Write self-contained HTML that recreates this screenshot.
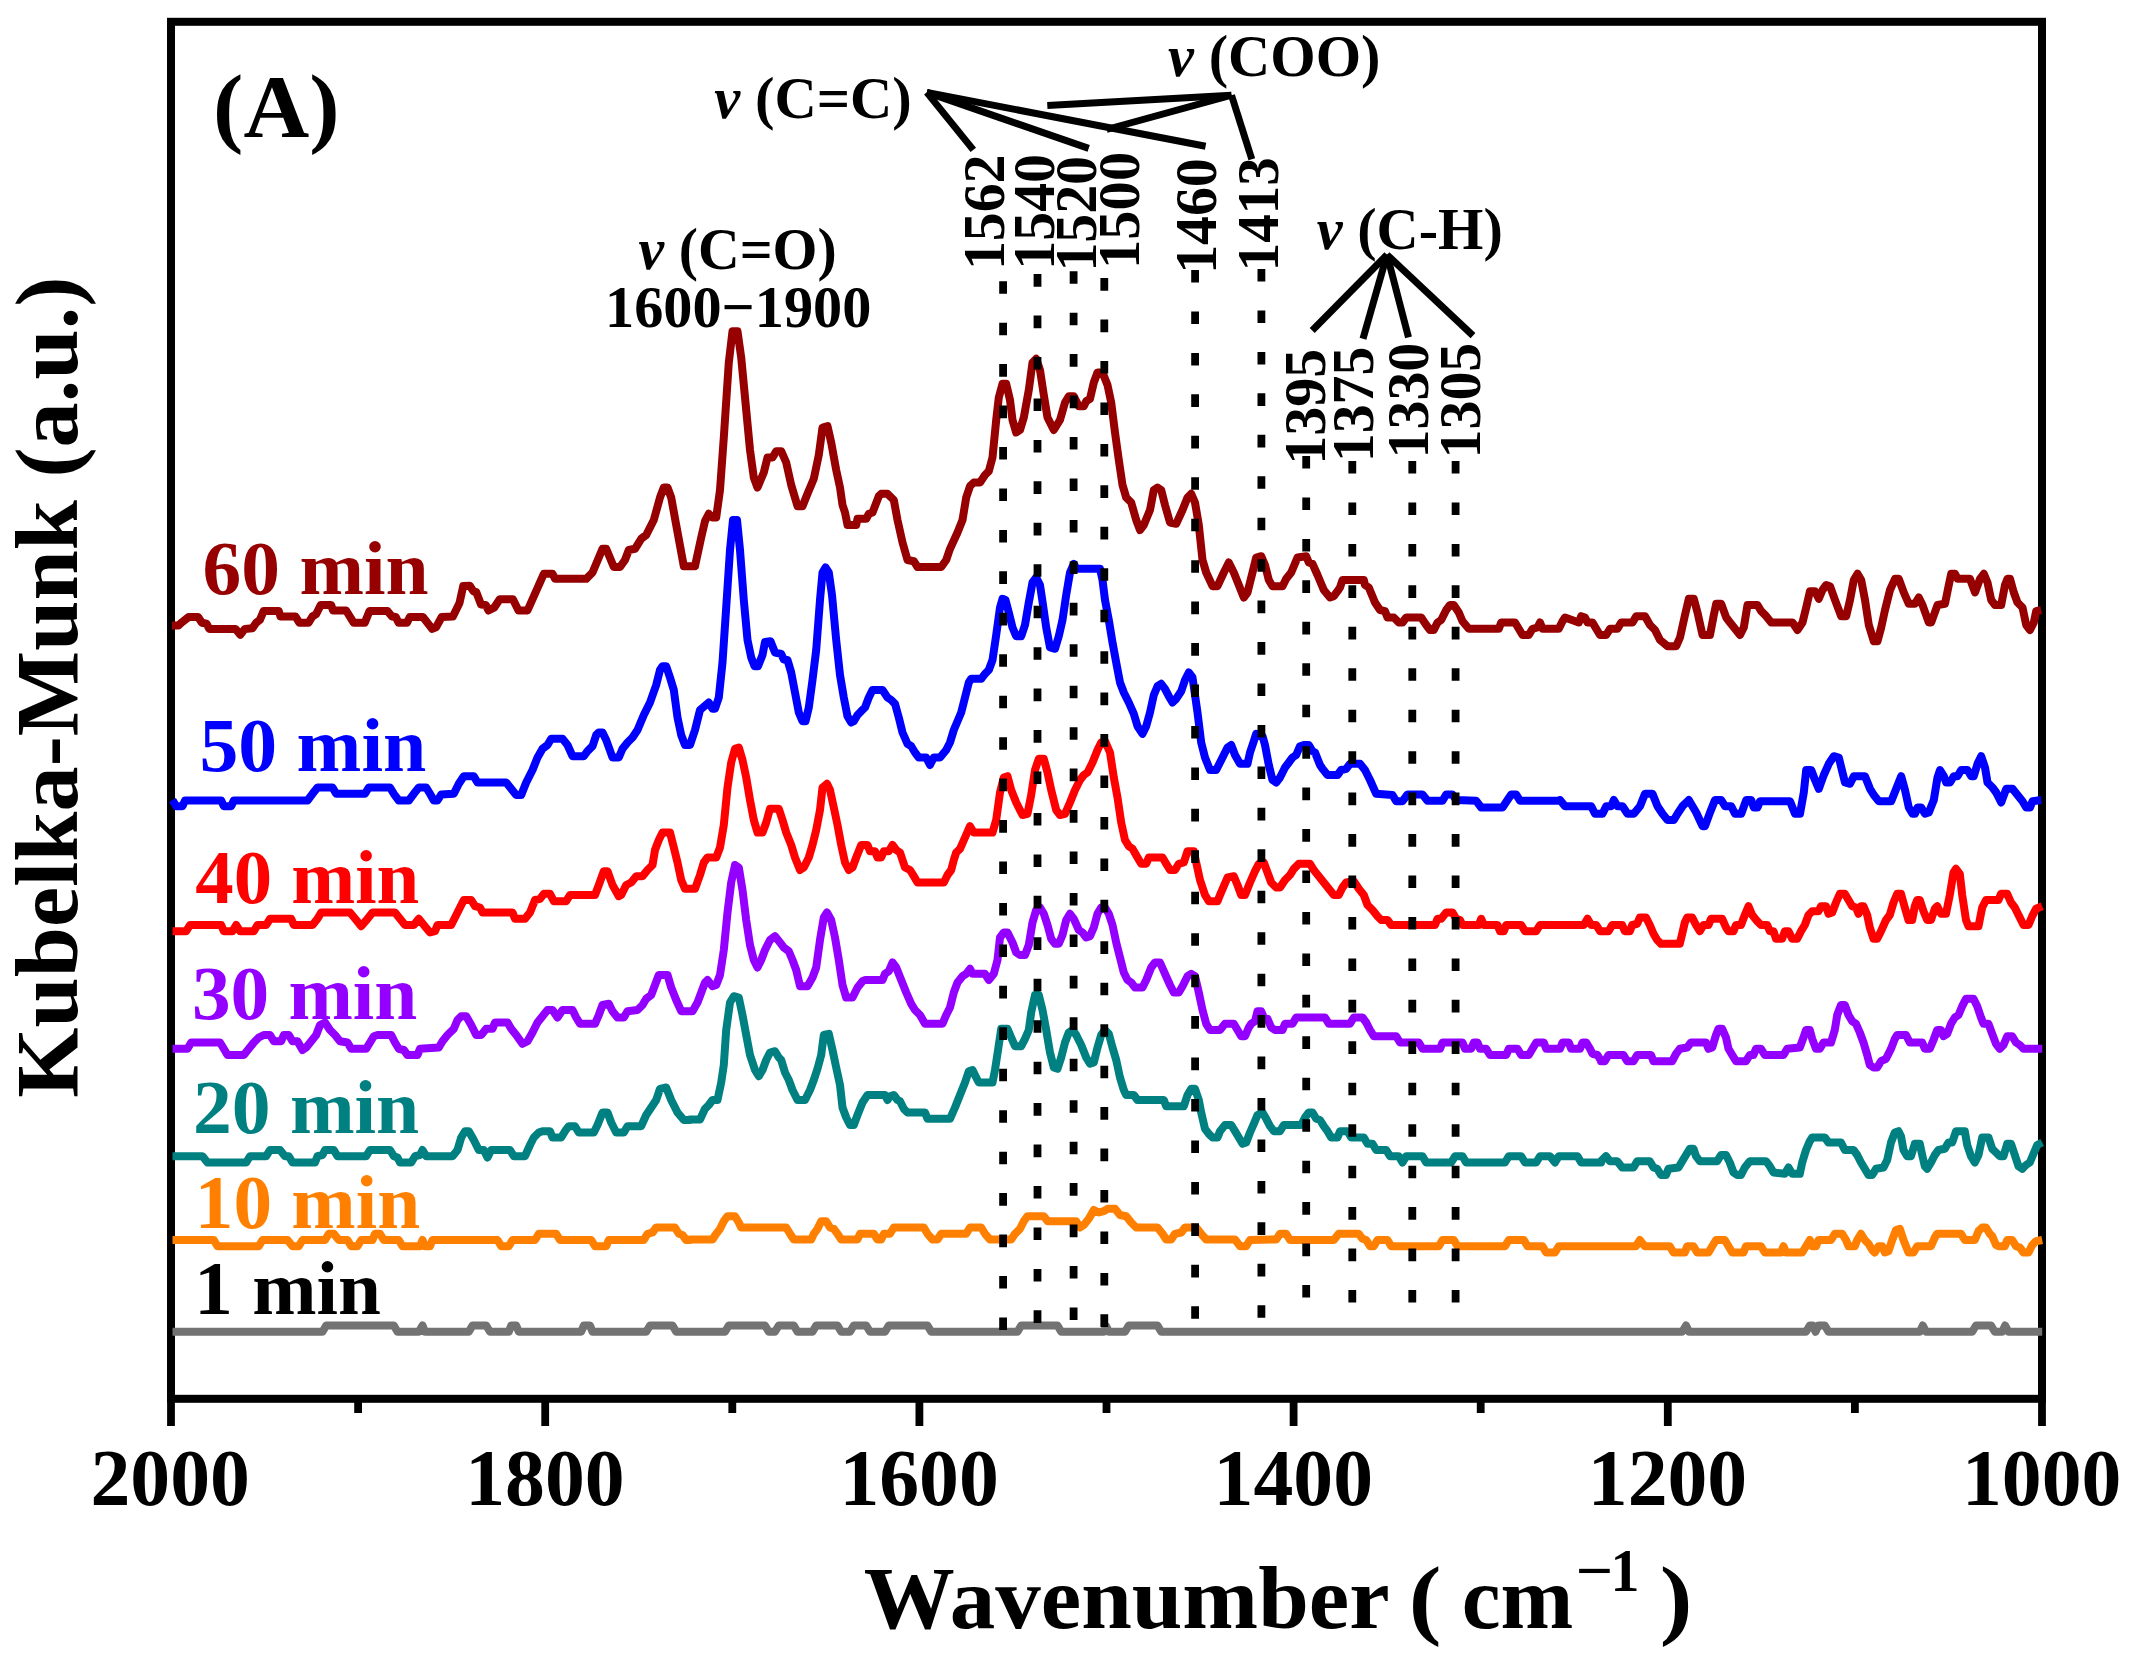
<!DOCTYPE html>
<html lang="en"><head><meta charset="utf-8"><title>DRIFTS spectra (A)</title>
<style>html,body{margin:0;padding:0;background:#fff}svg{display:block}text{font-family:"Liberation Serif",serif;font-weight:bold}.cv{fill:none;stroke-width:8;stroke-linejoin:round;stroke-linecap:butt}.dt{stroke:#000;stroke-width:7.8;stroke-dasharray:12.6 28.85;fill:none}.ln{stroke:#000;stroke-width:7;fill:none;stroke-linecap:butt}</style></head><body>
<svg width="2135" height="1659" viewBox="0 0 2135 1659">
<rect width="2135" height="1659" fill="#fff"/>
<rect x="171.0" y="21.8" width="1871.0" height="1377.0" fill="none" stroke="#000" stroke-width="8"/>
<line x1="171.0" y1="1398.8" x2="171.0" y2="1426" stroke="#000" stroke-width="7.8"/>
<line x1="358.1" y1="1398.8" x2="358.1" y2="1413" stroke="#000" stroke-width="7.8"/>
<line x1="545.2" y1="1398.8" x2="545.2" y2="1426" stroke="#000" stroke-width="7.8"/>
<line x1="732.3" y1="1398.8" x2="732.3" y2="1413" stroke="#000" stroke-width="7.8"/>
<line x1="919.4" y1="1398.8" x2="919.4" y2="1426" stroke="#000" stroke-width="7.8"/>
<line x1="1106.5" y1="1398.8" x2="1106.5" y2="1413" stroke="#000" stroke-width="7.8"/>
<line x1="1293.6" y1="1398.8" x2="1293.6" y2="1426" stroke="#000" stroke-width="7.8"/>
<line x1="1480.7" y1="1398.8" x2="1480.7" y2="1413" stroke="#000" stroke-width="7.8"/>
<line x1="1667.8" y1="1398.8" x2="1667.8" y2="1426" stroke="#000" stroke-width="7.8"/>
<line x1="1854.9" y1="1398.8" x2="1854.9" y2="1413" stroke="#000" stroke-width="7.8"/>
<line x1="2042.0" y1="1398.8" x2="2042.0" y2="1426" stroke="#000" stroke-width="7.8"/>
<path class="cv" id="c1" stroke="#737373" d="M172.5 1331.8 L322.5 1331.8 L326.2 1325.5 L393.8 1325.5 L397.5 1331.8 L418.8 1331.8 L422.5 1325.5 L425.0 1331.8 L468.8 1331.8 L472.5 1325.5 L486.2 1325.5 L490.0 1331.8 L508.8 1331.8 L511.2 1325.5 L516.2 1325.5 L518.8 1331.8 L581.2 1331.8 L583.8 1325.5 L590.0 1325.5 L592.5 1331.8 L646.2 1331.8 L650.0 1325.5 L672.5 1325.5 L676.2 1331.8 L690.0 1331.8 L690.0 1331.8 L725.0 1331.8 L728.8 1325.5 L765.0 1325.5 L768.8 1331.8 L775.0 1331.8 L778.8 1325.5 L793.8 1325.5 L797.5 1331.8 L812.5 1331.8 L816.2 1325.5 L837.5 1325.5 L841.2 1331.8 L850.0 1331.8 L853.8 1325.5 L866.2 1325.5 L870.0 1331.8 L885.0 1331.8 L888.8 1325.5 L927.5 1325.5 L931.2 1331.8 L1017.5 1331.8 L1021.2 1325.5 L1057.5 1325.5 L1061.2 1331.8 L1103.8 1331.8 L1106.2 1326.2 L1108.8 1331.8 L1125.0 1331.8 L1128.8 1325.5 L1157.5 1325.5 L1161.2 1331.8 L1601.0 1331.8 L1601.0 1331.8 L1682.2 1331.8 L1686.0 1325.5 L1689.0 1331.8 L1806.0 1331.8 L1809.8 1325.5 L1813.0 1325.5 L1815.5 1331.8 L1818.5 1325.5 L1824.8 1325.5 L1828.5 1331.8 L1919.8 1331.8 L1922.8 1325.5 L1926.0 1331.8 L1972.2 1331.8 L1976.0 1325.5 L1991.0 1325.5 L1994.8 1331.8 L2002.2 1331.8 L2005.2 1325.5 L2008.5 1331.8 L2042.2 1331.8"/>
<path class="cv" id="c10" stroke="#ff8000" d="M172.5 1240.0 L213.8 1240.0 L217.5 1246.2 L258.8 1246.2 L262.5 1240.0 L287.5 1240.0 L292.5 1246.2 L298.8 1246.2 L302.5 1240.0 L325.0 1240.0 L328.8 1233.8 L333.8 1233.8 L338.8 1240.0 L347.5 1240.0 L351.2 1246.2 L357.5 1246.2 L361.2 1240.0 L372.5 1240.0 L375.0 1233.8 L380.0 1233.8 L383.8 1240.0 L398.8 1240.0 L402.5 1246.2 L420.0 1246.2 L422.5 1240.0 L425.0 1246.2 L430.0 1246.2 L432.5 1240.0 L497.5 1240.0 L501.2 1246.2 L508.8 1246.2 L512.5 1240.0 L535.0 1240.0 L538.8 1233.8 L556.2 1233.8 L560.0 1240.0 L591.2 1240.0 L595.0 1246.2 L606.2 1246.2 L608.8 1240.0 L643.8 1240.0 L647.5 1233.8 L652.5 1232.5 L656.2 1227.5 L675.0 1227.5 L678.8 1233.8 L682.5 1235.0 L686.2 1240.0 L690.0 1240.0 L690.0 1239.5 L712.5 1239.5 L716.2 1233.8 L720.0 1228.8 L723.8 1221.2 L727.5 1216.2 L735.0 1216.2 L738.8 1222.5 L741.2 1227.5 L786.2 1227.5 L790.0 1233.8 L793.8 1239.5 L811.2 1239.5 L813.8 1233.8 L817.5 1228.8 L821.2 1221.2 L826.2 1221.2 L830.0 1227.5 L833.8 1228.8 L837.5 1233.8 L841.2 1239.5 L857.5 1239.5 L860.0 1233.8 L873.8 1233.8 L877.5 1239.5 L881.2 1239.5 L883.8 1233.8 L890.0 1233.8 L893.8 1227.5 L923.8 1227.5 L927.5 1233.8 L932.5 1239.5 L937.5 1239.5 L941.2 1233.8 L966.2 1233.8 L970.0 1227.5 L981.2 1227.5 L985.0 1233.8 L990.0 1239.5 L1011.2 1239.5 L1015.0 1233.8 L1020.0 1228.8 L1023.8 1221.2 L1027.5 1216.2 L1043.8 1216.2 L1047.5 1221.2 L1076.2 1221.2 L1080.0 1227.5 L1083.8 1225.0 L1088.8 1218.8 L1093.8 1210.0 L1098.8 1212.5 L1103.8 1211.2 L1107.5 1208.8 L1115.0 1208.8 L1120.0 1215.0 L1126.2 1216.2 L1131.2 1222.5 L1136.2 1227.5 L1157.5 1227.5 L1162.5 1233.8 L1166.2 1239.5 L1171.2 1239.5 L1175.0 1233.8 L1181.2 1232.5 L1185.0 1227.5 L1196.2 1227.5 L1201.2 1233.8 L1206.2 1239.5 L1235.0 1239.5 L1240.0 1246.2 L1246.2 1246.2 L1250.0 1240.0 L1276.2 1239.5 L1280.0 1233.8 L1286.2 1233.8 L1290.0 1240.0 L1333.8 1240.0 L1338.8 1233.8 L1358.8 1233.8 L1362.5 1238.8 L1366.2 1240.0 L1370.0 1246.2 L1373.8 1246.2 L1377.5 1240.0 L1387.5 1240.0 L1391.2 1246.2 L1438.8 1246.2 L1442.5 1240.0 L1453.8 1240.0 L1457.5 1246.2 L1505.0 1246.2 L1508.8 1240.0 L1523.8 1240.0 L1527.5 1246.2 L1542.5 1246.2 L1546.2 1252.5 L1555.0 1252.5 L1558.8 1246.2 L1601.0 1246.2 L1601.0 1246.2 L1636.0 1246.2 L1639.8 1240.0 L1644.8 1246.2 L1669.8 1246.2 L1673.5 1252.5 L1684.8 1252.5 L1687.2 1246.2 L1693.5 1246.2 L1697.2 1252.5 L1708.5 1252.5 L1712.2 1246.2 L1716.0 1240.0 L1724.8 1240.0 L1728.5 1246.2 L1732.2 1252.5 L1743.5 1252.5 L1746.0 1246.2 L1761.0 1246.2 L1764.8 1252.5 L1781.0 1252.5 L1783.5 1246.2 L1786.0 1252.5 L1802.2 1252.5 L1806.0 1246.2 L1809.8 1240.0 L1812.2 1246.2 L1816.0 1246.2 L1818.5 1240.0 L1831.0 1240.0 L1834.8 1233.8 L1842.2 1233.8 L1846.0 1240.0 L1848.5 1246.2 L1854.8 1246.2 L1857.2 1240.0 L1861.0 1233.8 L1864.8 1240.0 L1868.5 1243.8 L1872.2 1250.0 L1874.8 1252.5 L1878.5 1246.2 L1882.2 1246.2 L1884.8 1252.5 L1888.5 1251.2 L1892.2 1240.0 L1896.0 1230.0 L1899.8 1228.8 L1903.5 1240.0 L1908.5 1252.5 L1913.5 1252.5 L1917.2 1246.2 L1931.0 1246.2 L1934.8 1237.5 L1937.2 1233.8 L1961.0 1233.8 L1964.8 1240.0 L1974.8 1240.0 L1978.5 1231.2 L1982.2 1227.5 L1986.0 1227.5 L1989.8 1233.8 L1992.2 1236.2 L1996.0 1245.0 L1998.5 1246.2 L2004.8 1246.2 L2007.2 1240.0 L2012.2 1240.0 L2016.0 1246.2 L2019.8 1247.5 L2023.5 1252.5 L2028.5 1252.5 L2032.2 1245.0 L2036.0 1241.2 L2042.2 1240.0"/>
<path class="cv" id="c20" stroke="#008080" d="M172.5 1156.2 L202.5 1156.2 L207.5 1162.5 L246.2 1162.5 L250.0 1156.2 L266.2 1156.2 L270.0 1150.0 L280.0 1150.0 L285.0 1156.2 L288.8 1156.2 L292.5 1162.5 L315.0 1162.5 L317.5 1156.2 L322.5 1155.0 L325.0 1150.0 L333.8 1150.0 L337.5 1156.2 L366.2 1156.2 L370.0 1150.0 L390.0 1150.0 L393.8 1156.2 L397.5 1157.5 L400.0 1162.5 L411.2 1162.5 L415.0 1156.2 L420.0 1155.0 L422.5 1150.0 L426.2 1156.2 L452.5 1156.2 L457.5 1150.0 L461.2 1137.5 L465.0 1131.2 L468.8 1131.2 L473.8 1140.0 L478.8 1150.0 L483.8 1150.0 L487.5 1157.5 L491.2 1150.0 L510.0 1150.0 L513.8 1156.2 L525.0 1156.2 L530.0 1145.0 L533.8 1137.5 L538.8 1132.5 L542.5 1131.2 L550.0 1131.2 L552.5 1137.5 L561.2 1137.5 L565.0 1131.2 L568.8 1126.2 L575.0 1126.2 L578.8 1132.5 L593.8 1132.5 L597.5 1125.0 L602.5 1112.5 L607.5 1112.5 L611.2 1122.5 L616.2 1132.5 L623.8 1132.5 L627.5 1126.2 L641.2 1126.2 L646.2 1115.0 L651.2 1107.5 L656.2 1100.0 L660.0 1088.8 L666.2 1087.5 L671.2 1100.0 L677.5 1112.5 L683.8 1120.0 L690.0 1120.0 L690.0 1119.5 L700.0 1119.5 L705.0 1108.8 L708.8 1105.0 L712.5 1100.0 L717.5 1100.0 L721.2 1082.5 L723.8 1065.0 L726.2 1030.0 L730.0 1002.5 L733.8 996.2 L738.8 997.5 L742.5 1015.0 L746.2 1035.0 L750.0 1055.0 L755.0 1070.0 L758.8 1076.2 L762.5 1070.0 L766.2 1060.0 L770.0 1052.5 L775.0 1051.2 L778.8 1057.5 L781.2 1060.0 L785.0 1072.5 L788.8 1080.0 L792.5 1090.0 L797.5 1100.0 L805.0 1100.0 L810.0 1090.0 L813.8 1080.0 L817.5 1068.8 L821.2 1055.0 L823.8 1035.0 L828.8 1033.8 L832.5 1050.0 L836.2 1067.5 L840.0 1085.0 L842.5 1107.5 L846.2 1117.5 L850.0 1125.0 L853.8 1125.0 L857.5 1115.0 L862.5 1102.5 L867.5 1095.0 L885.0 1095.0 L887.5 1100.0 L890.0 1096.2 L893.8 1095.0 L897.5 1100.0 L900.0 1101.2 L903.8 1108.8 L907.5 1112.5 L925.0 1112.5 L927.5 1118.8 L950.0 1118.8 L955.0 1107.5 L960.0 1095.0 L965.0 1082.5 L968.8 1071.2 L972.5 1070.0 L976.2 1077.5 L978.8 1082.5 L992.5 1082.5 L995.0 1070.0 L998.8 1045.0 L1001.2 1028.8 L1007.5 1028.8 L1011.2 1037.5 L1015.0 1046.2 L1021.2 1046.2 L1025.0 1038.8 L1028.8 1030.0 L1031.2 1012.5 L1035.0 995.0 L1038.8 995.0 L1042.5 1010.0 L1046.2 1030.0 L1050.0 1052.5 L1053.8 1067.5 L1057.5 1068.8 L1061.2 1057.5 L1065.0 1042.5 L1068.8 1032.5 L1072.5 1030.0 L1076.2 1035.0 L1081.2 1045.0 L1086.2 1057.5 L1090.0 1063.8 L1093.8 1062.5 L1097.5 1047.5 L1101.2 1035.0 L1105.0 1030.0 L1108.8 1033.8 L1112.5 1047.5 L1116.2 1060.0 L1120.0 1077.5 L1123.8 1090.0 L1126.2 1095.0 L1133.8 1095.0 L1137.5 1100.0 L1163.8 1100.0 L1166.2 1106.2 L1183.8 1106.2 L1187.5 1095.0 L1191.2 1088.8 L1195.0 1088.8 L1198.8 1100.0 L1201.2 1112.5 L1205.0 1128.8 L1208.8 1133.8 L1212.5 1137.5 L1217.5 1137.5 L1220.0 1131.2 L1225.0 1125.0 L1231.2 1125.0 L1235.0 1131.2 L1238.8 1137.5 L1242.5 1143.8 L1246.2 1142.5 L1250.0 1132.5 L1253.8 1123.8 L1257.5 1115.0 L1262.5 1112.5 L1266.2 1118.8 L1270.0 1126.2 L1273.8 1131.2 L1280.0 1131.2 L1283.8 1125.0 L1301.2 1125.0 L1305.0 1117.5 L1308.8 1112.5 L1312.5 1112.5 L1316.2 1118.8 L1320.0 1120.0 L1323.8 1126.2 L1327.5 1131.2 L1331.2 1137.5 L1337.5 1137.5 L1340.0 1131.2 L1347.5 1131.2 L1351.2 1137.5 L1363.8 1137.5 L1367.5 1143.8 L1372.5 1143.8 L1376.2 1150.0 L1386.2 1150.0 L1390.0 1156.2 L1398.8 1156.2 L1402.5 1162.5 L1406.2 1156.2 L1422.5 1156.2 L1426.2 1162.5 L1451.2 1162.5 L1455.0 1156.2 L1462.5 1156.2 L1466.2 1162.5 L1505.0 1162.5 L1508.8 1156.2 L1521.2 1156.2 L1525.0 1162.5 L1536.2 1162.5 L1540.0 1156.2 L1550.0 1156.2 L1555.0 1162.5 L1558.8 1156.2 L1577.5 1156.2 L1581.2 1162.5 L1601.0 1162.5 L1601.0 1161.2 L1606.0 1156.2 L1609.8 1161.2 L1617.2 1161.2 L1622.2 1167.5 L1633.5 1167.5 L1637.2 1161.2 L1649.8 1161.2 L1653.5 1167.5 L1657.2 1168.8 L1661.0 1175.0 L1666.0 1175.0 L1668.5 1168.8 L1678.5 1167.5 L1682.2 1161.2 L1686.0 1155.0 L1689.8 1148.8 L1693.5 1148.8 L1696.0 1156.2 L1699.8 1161.2 L1717.2 1161.2 L1721.0 1155.0 L1726.0 1155.0 L1729.8 1162.5 L1733.5 1172.5 L1737.2 1175.0 L1741.0 1175.0 L1744.8 1167.5 L1749.8 1161.2 L1766.0 1161.2 L1769.8 1166.2 L1773.5 1172.5 L1784.8 1173.8 L1788.5 1167.5 L1792.2 1173.8 L1799.8 1173.8 L1802.2 1162.5 L1806.0 1150.0 L1809.8 1141.2 L1812.2 1137.5 L1824.8 1137.5 L1828.5 1142.5 L1841.0 1142.5 L1844.8 1150.0 L1853.5 1150.0 L1857.2 1155.0 L1861.0 1162.5 L1864.8 1168.8 L1868.5 1175.0 L1872.2 1175.0 L1876.0 1168.8 L1883.5 1167.5 L1887.2 1160.0 L1891.0 1142.5 L1894.8 1132.5 L1898.5 1131.2 L1901.0 1136.2 L1903.5 1150.0 L1907.2 1156.2 L1911.0 1156.2 L1914.8 1143.8 L1919.8 1143.8 L1922.2 1155.0 L1924.8 1166.2 L1927.2 1168.8 L1931.0 1162.5 L1934.8 1155.0 L1938.5 1150.0 L1944.8 1148.8 L1948.5 1142.5 L1952.2 1142.5 L1956.0 1131.2 L1964.8 1131.2 L1967.2 1145.0 L1971.0 1156.2 L1974.8 1162.5 L1978.5 1155.0 L1982.2 1137.5 L1988.5 1137.5 L1992.2 1148.8 L1996.0 1152.5 L1999.8 1156.2 L2003.5 1156.2 L2007.2 1143.8 L2011.0 1143.8 L2014.8 1155.0 L2018.5 1166.2 L2022.2 1168.8 L2026.0 1165.0 L2029.8 1162.5 L2033.5 1153.8 L2037.2 1145.0 L2042.2 1142.5"/>
<path class="cv" id="c30" stroke="#9400ff" d="M172.5 1048.8 L187.5 1048.8 L191.2 1042.5 L220.0 1042.5 L223.8 1048.8 L227.5 1055.0 L243.8 1055.0 L248.8 1048.8 L253.8 1042.5 L258.8 1037.5 L263.8 1035.0 L270.0 1035.0 L273.8 1041.2 L281.2 1041.2 L283.8 1035.0 L288.8 1035.0 L292.5 1041.2 L297.5 1041.2 L302.5 1050.0 L306.2 1047.5 L311.2 1041.2 L316.2 1035.0 L320.0 1025.0 L325.0 1022.5 L330.0 1030.0 L335.0 1035.0 L340.0 1041.2 L347.5 1042.5 L351.2 1048.8 L366.2 1048.8 L370.0 1042.5 L373.8 1036.2 L377.5 1035.0 L391.2 1035.0 L395.0 1042.5 L398.8 1048.8 L403.8 1050.0 L407.5 1055.0 L417.5 1055.0 L420.0 1048.8 L438.8 1047.5 L442.5 1041.2 L447.5 1035.0 L453.8 1028.8 L457.5 1020.0 L461.2 1016.2 L466.2 1016.2 L471.2 1025.0 L476.2 1035.0 L481.2 1035.0 L486.2 1028.8 L492.5 1028.8 L495.0 1022.5 L507.5 1022.5 L511.2 1028.8 L516.2 1035.0 L522.5 1043.8 L527.5 1041.2 L532.5 1032.5 L537.5 1022.5 L542.5 1016.2 L547.5 1010.0 L552.5 1010.0 L557.5 1017.5 L562.5 1010.0 L572.5 1010.0 L576.2 1017.5 L580.0 1023.8 L595.0 1023.8 L598.8 1015.0 L602.5 1005.0 L608.8 1003.8 L612.5 1011.2 L617.5 1017.5 L623.8 1017.5 L627.5 1011.2 L637.5 1010.0 L642.5 1005.0 L646.2 998.8 L651.2 995.0 L655.0 985.0 L658.8 975.0 L667.5 975.0 L671.2 987.5 L676.2 1000.0 L681.2 1011.2 L692.5 1011.2 L697.5 1002.5 L705.0 982.5 L707.5 980.0 L712.5 986.2 L716.2 985.0 L720.0 975.0 L723.8 950.0 L727.5 912.5 L731.2 882.5 L735.0 865.0 L738.8 867.5 L742.5 890.0 L746.2 920.0 L750.0 945.0 L753.8 960.0 L757.5 967.5 L761.2 960.0 L765.0 950.0 L770.0 940.0 L775.0 936.2 L780.0 942.5 L783.8 947.5 L788.8 951.2 L792.5 960.0 L796.2 970.0 L800.0 986.2 L807.5 986.2 L812.5 977.5 L816.2 967.5 L820.0 940.0 L823.8 917.5 L827.0 912.5 L831.2 920.0 L835.0 937.5 L838.8 960.0 L842.5 985.0 L846.2 997.5 L852.5 997.5 L857.5 987.5 L862.5 981.2 L865.0 980.0 L882.5 980.0 L885.0 973.8 L888.8 971.2 L892.5 962.5 L896.2 967.5 L901.2 980.0 L906.2 992.5 L911.2 1003.8 L915.0 1010.0 L920.0 1015.0 L925.0 1023.8 L942.5 1023.8 L946.2 1015.0 L950.0 1007.5 L953.8 992.5 L957.5 982.5 L962.5 976.2 L966.2 973.8 L970.0 968.8 L972.5 973.8 L985.0 973.8 L988.8 980.0 L993.8 973.8 L997.5 960.0 L1000.0 937.5 L1003.8 932.5 L1007.5 932.5 L1012.5 942.5 L1016.2 952.5 L1020.0 955.0 L1025.0 955.0 L1028.8 945.0 L1032.5 922.5 L1036.2 910.0 L1040.0 907.5 L1043.8 913.8 L1047.5 925.0 L1051.2 938.8 L1055.0 943.8 L1058.8 943.8 L1062.5 935.0 L1066.2 920.0 L1070.0 913.8 L1073.8 918.8 L1078.8 930.0 L1082.5 932.5 L1086.2 937.5 L1090.0 936.2 L1093.8 927.5 L1097.5 913.8 L1101.2 907.5 L1105.0 907.5 L1108.8 913.8 L1112.5 925.0 L1116.2 942.5 L1120.0 957.5 L1123.8 972.5 L1127.5 980.0 L1131.2 982.5 L1135.0 987.5 L1142.5 987.5 L1146.2 980.0 L1151.2 967.5 L1155.0 962.5 L1160.0 962.5 L1165.0 973.8 L1170.0 985.0 L1173.8 992.5 L1178.8 992.5 L1182.5 986.2 L1187.5 976.2 L1191.2 973.8 L1195.0 976.2 L1198.8 992.5 L1202.5 1010.0 L1206.2 1023.8 L1210.0 1030.0 L1220.0 1030.0 L1225.0 1023.8 L1233.8 1023.8 L1237.5 1030.0 L1241.2 1036.2 L1245.0 1036.2 L1248.8 1027.5 L1251.2 1023.8 L1255.0 1021.2 L1257.5 1011.2 L1261.2 1011.2 L1263.8 1017.5 L1267.5 1018.8 L1271.2 1027.5 L1275.0 1030.0 L1282.5 1030.0 L1285.0 1023.8 L1292.5 1023.8 L1296.2 1017.5 L1325.0 1017.5 L1328.8 1023.8 L1350.0 1023.8 L1353.8 1017.5 L1362.5 1017.5 L1366.2 1022.5 L1370.0 1030.0 L1373.8 1036.2 L1396.2 1036.2 L1400.0 1042.5 L1418.8 1042.5 L1422.5 1048.8 L1440.0 1048.8 L1442.5 1042.5 L1462.5 1042.5 L1465.0 1048.8 L1471.2 1048.8 L1473.8 1042.5 L1477.5 1042.5 L1480.0 1048.8 L1486.2 1048.8 L1490.0 1055.0 L1506.2 1055.0 L1508.8 1048.8 L1517.5 1048.8 L1521.2 1055.0 L1528.8 1055.0 L1532.5 1048.8 L1536.2 1042.5 L1543.8 1042.5 L1546.2 1048.8 L1560.0 1048.8 L1562.5 1042.5 L1568.8 1042.5 L1571.2 1048.8 L1580.0 1048.8 L1582.5 1042.5 L1586.2 1042.5 L1590.0 1048.8 L1592.5 1053.8 L1597.5 1055.0 L1601.0 1060.8 L1601.0 1061.2 L1604.8 1061.2 L1608.5 1055.0 L1623.5 1055.0 L1627.2 1061.2 L1633.5 1061.2 L1637.2 1055.0 L1651.0 1055.0 L1653.5 1061.2 L1672.2 1061.2 L1676.0 1053.8 L1679.8 1048.8 L1687.2 1047.5 L1691.0 1042.5 L1706.0 1042.5 L1708.5 1048.8 L1712.2 1047.5 L1716.0 1035.0 L1718.5 1028.8 L1722.2 1028.8 L1726.0 1037.5 L1728.5 1048.8 L1732.2 1055.0 L1736.0 1061.2 L1746.0 1061.2 L1749.8 1055.0 L1753.5 1055.0 L1756.0 1048.8 L1761.0 1048.8 L1764.8 1055.0 L1783.5 1055.0 L1787.2 1048.8 L1799.8 1047.5 L1803.5 1037.5 L1806.0 1030.0 L1809.8 1030.0 L1812.2 1038.8 L1816.0 1048.8 L1819.8 1048.8 L1823.5 1042.5 L1831.0 1042.5 L1834.8 1030.0 L1837.2 1015.0 L1841.0 1005.0 L1844.8 1005.0 L1848.5 1015.0 L1852.2 1021.2 L1856.0 1023.8 L1859.8 1032.5 L1863.5 1042.5 L1867.2 1055.0 L1869.8 1065.0 L1873.5 1067.5 L1877.2 1067.5 L1881.0 1061.2 L1886.0 1058.8 L1891.0 1048.8 L1894.8 1038.8 L1897.2 1035.0 L1906.0 1035.0 L1909.8 1042.5 L1922.2 1042.5 L1924.8 1048.8 L1929.8 1048.8 L1933.5 1040.0 L1937.2 1030.0 L1941.0 1030.0 L1943.5 1036.2 L1947.2 1033.8 L1951.0 1023.8 L1954.8 1017.5 L1958.5 1015.0 L1962.2 1006.2 L1966.0 998.8 L1973.5 998.8 L1977.2 1006.2 L1981.0 1017.5 L1983.5 1023.8 L1988.5 1023.8 L1992.2 1033.8 L1996.0 1043.8 L1999.8 1048.8 L2003.5 1045.0 L2007.2 1036.2 L2012.2 1036.2 L2016.0 1042.5 L2019.8 1045.0 L2023.5 1048.8 L2042.2 1048.8"/>
<path class="cv" id="c40" stroke="#ff0000" d="M172.5 931.2 L186.2 931.2 L190.0 925.0 L221.2 925.0 L223.8 931.2 L232.5 931.2 L236.2 925.0 L240.0 931.2 L253.8 931.2 L257.5 925.0 L266.2 925.0 L270.0 918.8 L291.2 918.8 L293.8 925.0 L312.5 925.0 L317.5 918.8 L321.2 912.5 L350.0 912.5 L356.2 920.0 L361.2 926.2 L367.5 918.8 L372.5 912.5 L395.0 912.5 L400.0 918.8 L405.0 925.0 L413.8 925.0 L418.8 918.8 L423.8 925.0 L430.0 932.5 L435.0 931.2 L437.5 925.0 L451.2 925.0 L457.5 912.5 L463.8 900.0 L471.2 900.0 L475.0 906.2 L480.0 907.5 L482.5 912.5 L512.5 912.5 L515.0 918.8 L525.0 918.8 L530.0 912.5 L535.0 900.0 L540.0 898.8 L543.8 893.8 L550.0 893.8 L553.8 901.2 L566.2 901.2 L570.0 895.0 L595.0 895.0 L598.8 885.0 L603.8 871.2 L607.5 871.2 L612.5 885.0 L618.8 896.2 L621.2 895.0 L626.2 885.0 L631.2 882.5 L636.2 876.2 L642.5 876.2 L647.5 870.0 L652.5 865.0 L655.0 850.0 L658.8 840.0 L662.5 832.5 L670.0 832.5 L673.8 847.5 L677.5 862.5 L681.2 880.0 L685.0 888.8 L690.0 888.8 L690.0 888.8 L695.0 888.8 L700.0 875.0 L703.8 862.5 L707.5 857.5 L716.2 857.5 L720.0 847.5 L723.8 825.0 L727.5 787.5 L731.2 762.5 L735.0 748.8 L738.8 747.5 L742.5 760.0 L746.2 777.5 L750.0 800.0 L753.8 820.0 L757.5 832.5 L762.5 832.5 L766.2 822.5 L770.0 808.8 L778.8 808.8 L782.5 820.0 L786.2 832.5 L791.2 845.0 L795.0 857.5 L800.0 870.0 L803.8 867.5 L808.8 857.5 L812.5 845.0 L816.2 830.0 L820.0 810.0 L822.5 787.5 L827.0 783.8 L830.0 790.0 L833.8 807.5 L837.5 825.0 L841.2 845.0 L845.0 862.5 L848.8 870.0 L852.5 867.5 L856.2 857.5 L861.2 845.0 L867.5 845.0 L870.0 851.2 L875.0 851.2 L877.5 857.5 L881.2 857.5 L883.8 851.2 L888.8 851.2 L892.5 845.0 L896.2 850.0 L900.0 852.5 L905.0 867.5 L910.0 870.0 L913.8 876.2 L917.5 882.5 L943.8 882.5 L947.5 875.0 L951.2 870.0 L953.8 860.0 L956.2 852.5 L960.0 848.8 L965.0 837.5 L970.0 826.2 L973.8 832.5 L992.5 832.5 L996.2 820.0 L1000.0 792.5 L1003.8 777.5 L1007.5 776.2 L1011.2 790.0 L1016.2 802.5 L1022.5 815.0 L1027.5 813.8 L1031.2 795.0 L1035.0 770.0 L1038.8 758.8 L1043.8 758.8 L1047.5 772.5 L1051.2 790.0 L1056.2 810.0 L1060.0 815.0 L1065.0 813.8 L1070.0 802.5 L1075.0 790.0 L1080.0 780.0 L1083.8 775.0 L1087.5 772.5 L1092.5 762.5 L1097.5 750.0 L1101.2 742.5 L1105.0 741.2 L1110.0 752.5 L1113.8 777.5 L1117.5 797.5 L1121.2 822.5 L1125.0 840.0 L1128.8 846.2 L1132.5 848.8 L1137.5 857.5 L1141.2 863.8 L1146.2 863.8 L1148.8 857.5 L1162.5 857.5 L1166.2 863.8 L1170.0 870.0 L1175.0 870.0 L1178.8 863.8 L1183.8 862.5 L1187.5 851.2 L1193.8 851.2 L1196.2 862.5 L1200.0 880.0 L1205.0 895.0 L1208.8 901.2 L1217.5 901.2 L1220.0 895.0 L1227.5 877.5 L1233.8 876.2 L1237.5 885.0 L1241.2 895.0 L1245.0 895.0 L1250.0 882.5 L1255.0 871.2 L1258.8 863.8 L1263.8 862.5 L1267.5 872.5 L1271.2 882.5 L1276.2 887.5 L1280.0 887.5 L1285.0 880.0 L1290.0 875.0 L1293.8 868.8 L1298.8 863.8 L1310.0 863.8 L1313.8 870.0 L1318.8 876.2 L1323.8 882.5 L1328.8 888.8 L1333.8 895.0 L1338.8 895.0 L1342.5 887.5 L1346.2 882.5 L1353.8 881.2 L1358.8 888.8 L1363.8 895.0 L1367.5 905.0 L1372.5 910.0 L1377.5 916.2 L1381.2 920.0 L1387.5 920.0 L1391.2 925.0 L1435.0 925.0 L1437.5 918.8 L1441.2 918.8 L1446.2 912.5 L1452.5 912.5 L1456.2 918.8 L1460.0 920.0 L1462.5 925.0 L1478.8 925.0 L1481.2 918.8 L1483.8 925.0 L1497.5 925.0 L1500.0 931.2 L1503.8 931.2 L1506.2 925.0 L1521.2 925.0 L1525.0 931.2 L1536.2 931.2 L1540.0 925.0 L1583.8 925.0 L1587.5 918.8 L1591.2 925.0 L1596.2 925.0 L1600.0 931.2 L1601.0 931.2 L1608.5 931.2 L1612.2 925.0 L1622.2 925.0 L1624.8 931.2 L1629.8 931.2 L1632.2 925.0 L1637.2 923.8 L1639.8 917.5 L1646.0 917.5 L1649.8 925.0 L1653.5 933.8 L1657.2 940.0 L1661.0 943.8 L1679.8 943.8 L1682.2 933.8 L1684.8 922.5 L1687.2 917.5 L1692.2 917.5 L1696.0 925.0 L1699.8 931.2 L1703.5 925.0 L1708.5 925.0 L1711.0 918.8 L1722.2 918.8 L1726.0 927.5 L1728.5 931.2 L1733.5 931.2 L1736.0 925.0 L1741.0 925.0 L1744.8 915.0 L1748.5 906.2 L1752.2 915.0 L1757.2 921.2 L1761.0 925.0 L1767.2 925.0 L1769.8 931.2 L1773.5 931.2 L1776.0 938.8 L1782.2 938.8 L1784.8 931.2 L1788.5 931.2 L1792.2 938.8 L1797.2 938.8 L1801.0 931.2 L1804.8 925.0 L1808.5 915.0 L1812.2 911.2 L1818.5 911.2 L1821.0 906.2 L1826.0 906.2 L1828.5 913.8 L1832.2 912.5 L1836.0 902.5 L1839.8 893.8 L1844.8 893.8 L1848.5 900.0 L1852.2 906.2 L1856.0 907.5 L1858.5 913.8 L1861.0 906.2 L1863.5 906.2 L1867.2 915.0 L1869.8 927.5 L1873.5 938.8 L1877.2 938.8 L1881.0 931.2 L1886.0 920.0 L1889.8 915.0 L1893.5 902.5 L1897.2 893.8 L1901.0 893.8 L1904.8 907.5 L1908.5 920.0 L1912.2 920.0 L1914.8 906.2 L1917.2 900.0 L1919.8 900.0 L1923.5 911.2 L1927.2 920.0 L1931.0 920.0 L1934.8 908.8 L1937.2 906.2 L1941.0 913.8 L1946.0 913.8 L1949.8 895.0 L1953.5 872.5 L1956.0 868.8 L1959.8 873.8 L1962.2 895.0 L1966.0 920.0 L1968.5 926.2 L1978.5 926.2 L1982.2 907.5 L1986.0 900.0 L1998.5 900.0 L2001.0 893.8 L2007.2 893.8 L2011.0 902.5 L2014.8 907.5 L2018.5 915.0 L2023.5 925.0 L2028.5 925.0 L2032.2 916.2 L2036.0 908.8 L2042.2 906.2"/>
<path class="cv" id="c50" stroke="#0000ff" d="M172.5 800.0 L176.2 806.2 L182.5 806.2 L185.0 800.5 L221.2 800.5 L223.8 806.2 L231.2 806.2 L233.8 800.5 L307.5 800.5 L312.5 793.8 L317.5 787.5 L332.5 787.5 L336.2 793.8 L365.0 793.8 L368.8 787.5 L390.0 787.5 L393.8 793.8 L398.8 800.5 L408.8 800.5 L413.8 793.8 L418.8 787.5 L426.2 787.5 L430.0 793.8 L433.8 800.5 L437.5 800.5 L441.2 794.5 L453.8 793.8 L458.8 783.8 L463.8 776.2 L473.8 776.2 L477.5 782.5 L506.2 782.5 L511.2 788.8 L516.2 795.0 L521.2 795.0 L526.2 782.5 L532.5 770.0 L537.5 757.5 L542.5 748.8 L547.5 745.0 L551.2 738.8 L562.5 738.8 L567.5 745.0 L572.5 756.2 L583.8 756.2 L587.5 751.2 L592.5 746.2 L596.2 735.0 L598.8 732.5 L602.5 732.5 L606.2 740.0 L612.5 757.5 L618.8 757.5 L622.5 748.8 L627.5 742.5 L632.5 737.5 L637.5 730.0 L643.8 715.0 L650.0 702.5 L656.2 685.0 L660.0 670.0 L662.5 666.2 L666.2 666.2 L670.0 677.5 L673.8 690.0 L677.5 717.5 L681.2 735.0 L685.0 745.0 L690.0 745.0 L695.0 730.0 L700.0 710.0 L708.8 702.5 L712.5 708.8 L715.0 708.8 L718.8 697.5 L722.5 662.5 L726.2 607.5 L730.0 550.0 L733.0 520.0 L737.0 520.0 L740.0 550.0 L743.8 600.0 L747.5 640.0 L751.2 657.5 L754.5 666.2 L758.0 666.2 L762.5 655.0 L765.0 642.0 L770.5 641.2 L775.0 652.5 L781.2 653.8 L783.8 659.5 L787.5 660.0 L791.2 672.5 L795.0 692.5 L798.8 712.5 L802.5 721.2 L805.5 721.2 L808.8 707.5 L812.5 680.0 L816.2 650.0 L820.0 600.0 L822.5 572.5 L825.5 567.5 L828.8 572.5 L832.0 595.0 L836.2 640.0 L840.0 675.0 L843.8 697.5 L847.5 716.2 L851.2 722.5 L853.8 721.2 L857.5 715.0 L861.2 711.2 L865.0 707.5 L868.8 697.5 L872.5 690.0 L882.5 690.0 L887.5 697.5 L891.2 700.0 L895.0 703.8 L898.8 717.5 L902.5 732.5 L907.5 743.8 L911.2 746.2 L915.0 752.5 L918.8 757.5 L926.2 757.5 L930.0 765.0 L933.8 757.5 L940.0 757.5 L946.2 750.0 L950.0 742.5 L953.8 730.0 L957.5 721.2 L961.2 712.5 L965.0 697.5 L968.8 682.5 L971.2 678.8 L981.2 678.8 L985.0 673.8 L988.8 670.0 L992.5 660.0 L996.2 635.0 L1000.0 607.5 L1002.5 598.8 L1005.5 600.0 L1008.8 612.5 L1012.5 627.5 L1016.2 636.2 L1021.2 636.2 L1025.0 625.0 L1028.8 602.5 L1032.5 582.5 L1036.2 577.5 L1040.0 585.0 L1043.0 605.0 L1046.2 627.5 L1050.0 647.5 L1055.0 648.8 L1058.8 636.2 L1062.5 620.0 L1066.2 595.0 L1070.0 572.5 L1073.8 563.8 L1076.2 568.8 L1100.0 568.8 L1102.5 580.0 L1105.0 600.0 L1108.8 620.0 L1112.5 642.5 L1116.2 662.5 L1120.0 682.5 L1123.8 692.5 L1128.8 702.5 L1133.8 713.8 L1137.5 726.2 L1142.5 733.8 L1146.2 726.2 L1150.0 712.5 L1153.8 695.0 L1157.5 686.2 L1161.2 683.8 L1165.0 688.8 L1168.8 696.2 L1172.5 702.5 L1176.2 698.8 L1181.2 691.2 L1185.0 680.0 L1188.8 672.5 L1192.5 677.5 L1195.0 695.0 L1197.5 712.5 L1201.2 742.5 L1205.0 757.5 L1210.0 770.0 L1216.2 770.0 L1220.0 762.5 L1227.5 747.5 L1231.2 745.0 L1235.0 755.0 L1240.0 763.8 L1247.5 763.8 L1250.0 752.5 L1253.8 741.2 L1256.2 733.8 L1262.5 736.2 L1265.0 745.0 L1268.8 765.0 L1272.5 780.0 L1276.2 782.5 L1280.0 777.5 L1285.0 767.5 L1288.8 762.5 L1292.5 757.5 L1296.2 755.0 L1300.0 746.2 L1303.8 745.0 L1308.8 745.0 L1312.5 751.2 L1315.0 752.5 L1320.0 765.0 L1322.5 768.8 L1327.5 775.0 L1337.5 775.0 L1341.2 770.0 L1346.2 768.8 L1350.0 763.8 L1360.0 763.8 L1365.0 770.0 L1370.0 780.0 L1376.2 793.8 L1392.5 795.0 L1396.2 801.2 L1402.5 801.2 L1407.5 794.5 L1422.5 794.5 L1427.5 800.8 L1442.5 800.8 L1446.2 794.5 L1452.5 794.5 L1456.2 800.0 L1476.2 800.8 L1481.2 807.5 L1502.5 807.5 L1507.5 800.0 L1511.2 794.5 L1516.2 794.5 L1520.0 800.8 L1560.0 800.8 L1560.0 800.0 L1565.0 806.2 L1591.2 806.2 L1595.0 813.8 L1602.5 813.8 L1606.2 806.2 L1611.2 806.2 L1613.8 800.0 L1617.5 806.2 L1622.5 806.2 L1627.5 813.8 L1633.8 813.8 L1640.0 806.2 L1645.0 793.8 L1652.5 793.8 L1657.5 806.2 L1662.5 813.8 L1667.5 820.0 L1673.8 820.0 L1677.5 813.8 L1682.5 806.2 L1688.8 800.0 L1696.2 812.5 L1702.5 826.2 L1705.0 826.2 L1710.0 812.5 L1715.0 800.0 L1721.2 800.0 L1725.0 806.2 L1731.2 806.2 L1735.0 813.8 L1741.2 813.8 L1746.2 800.0 L1751.2 800.0 L1753.8 807.5 L1757.5 807.5 L1760.0 801.2 L1790.0 801.2 L1795.0 813.8 L1800.0 813.8 L1803.8 792.5 L1806.2 770.0 L1811.2 770.0 L1815.0 780.0 L1818.8 788.8 L1823.8 775.0 L1828.8 763.8 L1833.8 756.2 L1838.8 757.5 L1842.5 772.5 L1845.0 782.5 L1850.0 783.8 L1853.8 776.2 L1865.0 776.2 L1870.0 788.8 L1873.8 795.0 L1878.8 801.2 L1891.2 801.2 L1896.2 788.8 L1901.2 776.2 L1905.0 790.0 L1908.8 807.5 L1912.5 813.8 L1915.0 813.8 L1917.5 807.5 L1921.2 807.5 L1925.0 813.8 L1928.8 812.5 L1933.8 800.0 L1937.5 777.5 L1940.0 770.0 L1943.8 776.2 L1946.2 782.5 L1950.0 782.5 L1953.8 776.2 L1957.5 776.2 L1961.2 770.0 L1967.5 770.0 L1971.2 776.2 L1973.8 776.2 L1977.5 763.8 L1981.2 756.2 L1985.0 767.5 L1987.5 782.5 L1992.5 787.5 L1996.2 792.5 L2001.2 802.5 L2006.2 788.8 L2012.5 788.8 L2017.5 795.0 L2022.5 801.2 L2026.2 807.5 L2030.0 807.5 L2032.5 801.2 L2041.2 800.0"/>
<path class="cv" id="c60" stroke="#960000" d="M171.9 625.5 L178.4 625.5 L182.2 622.1 L188.7 617.0 L198.1 617.0 L201.9 622.7 L206.5 623.6 L209.3 628.9 L235.6 628.9 L240.3 634.8 L244.9 628.9 L252.4 628.3 L256.2 622.7 L259.9 619.9 L263.7 610.9 L278.7 610.9 L280.5 616.5 L295.5 616.5 L299.3 622.7 L308.6 622.7 L312.4 616.5 L316.1 614.2 L320.8 604.9 L331.1 604.9 L333.0 610.5 L346.1 610.5 L353.6 622.7 L364.8 622.7 L369.5 610.9 L387.3 610.9 L392.0 616.5 L395.8 617.0 L398.6 622.7 L407.0 622.7 L409.8 617.0 L422.9 617.0 L432.3 628.9 L436.0 627.4 L441.7 617.0 L452.9 616.5 L459.5 603.0 L463.2 586.1 L469.8 585.8 L473.5 591.4 L476.3 592.1 L481.0 604.5 L485.7 604.9 L488.5 610.5 L494.1 607.7 L499.7 599.3 L512.9 599.3 L518.5 610.5 L520.0 610.5 L527.5 610.5 L543.8 573.8 L552.5 573.8 L555.0 578.8 L586.2 578.8 L592.5 572.5 L602.5 548.8 L606.2 548.8 L613.8 567.0 L620.0 567.0 L625.0 560.0 L628.8 550.0 L635.0 548.8 L641.2 538.8 L646.2 535.0 L653.8 520.0 L660.0 497.5 L663.8 487.5 L667.5 487.5 L671.2 497.5 L676.2 525.0 L683.8 566.2 L695.0 566.2 L701.2 537.5 L705.0 521.2 L708.8 513.8 L712.5 517.5 L716.2 517.5 L720.0 490.0 L723.8 437.5 L728.8 362.5 L732.5 331.2 L737.5 331.2 L741.2 357.5 L746.2 410.0 L750.0 450.0 L753.8 477.5 L757.5 487.5 L763.8 472.5 L767.5 457.5 L772.5 457.5 L776.2 451.2 L781.2 451.2 L786.2 462.5 L791.2 485.0 L797.5 506.2 L802.5 506.2 L807.5 493.8 L813.8 478.8 L818.8 455.0 L822.5 427.5 L827.5 426.2 L831.2 442.5 L836.2 470.0 L840.0 487.5 L842.5 505.0 L845.0 512.5 L847.5 525.0 L856.2 525.0 L857.5 518.8 L866.2 518.8 L868.8 513.8 L872.5 512.5 L878.8 496.2 L881.2 493.8 L887.5 493.8 L893.8 500.0 L897.5 520.0 L902.5 542.5 L907.5 560.0 L913.8 561.2 L917.5 567.0 L941.2 567.0 L946.2 560.0 L950.0 548.8 L957.5 532.5 L962.5 520.0 L966.2 497.5 L970.0 486.2 L973.8 482.5 L980.0 482.5 L985.0 475.0 L988.8 471.2 L992.5 457.5 L996.2 420.0 L998.8 397.5 L1002.5 383.8 L1006.2 383.8 L1010.0 400.0 L1012.5 420.0 L1016.2 432.5 L1020.0 430.0 L1023.8 417.5 L1028.8 390.0 L1032.5 362.5 L1036.2 358.8 L1040.0 370.0 L1043.8 395.0 L1047.5 417.5 L1053.8 430.0 L1060.0 420.0 L1065.0 402.5 L1068.8 396.2 L1073.8 396.2 L1078.8 406.2 L1083.8 406.2 L1086.2 401.2 L1090.0 398.8 L1093.8 382.5 L1097.5 372.5 L1102.5 372.5 L1107.5 385.0 L1111.2 402.5 L1115.0 432.5 L1118.8 460.0 L1122.5 485.0 L1126.2 497.5 L1131.2 502.5 L1136.2 520.0 L1140.0 530.0 L1143.8 525.0 L1150.0 510.0 L1153.8 490.0 L1157.5 487.5 L1161.2 490.0 L1165.0 505.0 L1170.0 522.5 L1176.2 523.8 L1182.5 510.0 L1187.5 497.5 L1191.2 493.8 L1195.0 502.5 L1198.8 525.0 L1202.5 560.0 L1206.2 572.5 L1212.5 586.2 L1217.5 586.2 L1223.8 572.5 L1228.8 562.5 L1233.8 572.5 L1238.8 585.0 L1243.8 597.5 L1247.5 592.5 L1252.5 572.5 L1256.2 557.5 L1261.2 556.2 L1265.0 565.0 L1268.8 580.0 L1272.5 586.2 L1282.5 586.2 L1286.2 578.8 L1291.2 572.5 L1297.5 557.5 L1306.2 556.2 L1308.8 562.5 L1312.5 563.8 L1317.5 575.0 L1323.8 590.0 L1330.0 597.5 L1333.8 596.2 L1337.5 591.2 L1340.0 587.5 L1342.5 580.0 L1363.8 580.0 L1365.0 585.0 L1368.8 587.5 L1375.0 602.5 L1380.0 610.0 L1385.0 611.2 L1387.5 617.5 L1393.8 617.5 L1398.8 622.5 L1402.5 622.5 L1406.2 617.5 L1421.2 617.5 L1426.2 625.0 L1430.0 630.0 L1433.8 630.0 L1437.5 622.5 L1441.2 620.0 L1446.2 610.0 L1450.0 605.0 L1453.8 605.0 L1458.8 612.5 L1462.5 621.2 L1468.8 628.8 L1498.8 628.8 L1501.2 622.5 L1515.0 622.5 L1518.8 628.8 L1522.5 635.0 L1528.8 635.0 L1532.5 628.8 L1537.5 627.5 L1540.0 622.5 L1542.5 628.8 L1558.8 628.8 L1562.5 621.2 L1565.0 617.5 L1578.8 622.5 L1581.2 616.2 L1585.0 617.5 L1587.5 622.5 L1592.5 622.5 L1596.2 628.8 L1600.0 635.0 L1606.2 635.0 L1610.0 628.8 L1617.5 628.8 L1621.2 622.5 L1632.5 622.5 L1636.2 616.2 L1645.0 616.2 L1650.0 625.0 L1655.0 630.0 L1660.0 640.0 L1667.5 646.2 L1676.2 646.2 L1680.0 637.5 L1685.0 615.0 L1688.8 598.8 L1693.8 598.8 L1697.5 612.5 L1702.5 635.0 L1710.0 635.0 L1713.8 615.0 L1716.2 603.8 L1721.2 603.8 L1726.2 617.5 L1730.0 622.5 L1735.0 628.8 L1740.0 635.0 L1743.8 627.5 L1747.5 605.0 L1757.5 605.0 L1761.2 611.2 L1766.2 616.2 L1771.2 622.5 L1792.5 622.5 L1797.5 630.0 L1802.5 622.5 L1806.2 607.5 L1810.0 591.2 L1815.0 591.2 L1818.8 598.8 L1822.5 590.0 L1826.2 585.0 L1830.0 586.2 L1835.0 600.0 L1841.2 616.2 L1846.2 616.2 L1850.0 600.0 L1853.8 580.0 L1857.5 573.8 L1861.2 580.0 L1865.0 600.0 L1868.8 625.0 L1873.8 641.2 L1877.5 641.2 L1881.2 627.5 L1885.0 610.0 L1890.0 590.0 L1895.0 578.8 L1898.8 578.8 L1903.8 592.5 L1908.8 603.8 L1915.0 603.8 L1918.8 597.5 L1922.5 605.0 L1928.8 622.5 L1931.2 622.5 L1937.5 605.0 L1945.0 603.8 L1948.8 585.0 L1951.2 573.8 L1955.0 573.8 L1957.5 578.8 L1970.0 578.8 L1975.0 592.5 L1980.0 578.8 L1983.8 573.8 L1987.5 582.5 L1991.2 600.0 L1995.0 605.0 L2001.2 605.0 L2005.0 585.0 L2007.5 578.8 L2010.0 578.8 L2013.8 592.5 L2017.5 602.5 L2022.5 607.5 L2026.2 625.0 L2030.0 630.0 L2033.8 622.5 L2036.2 611.2 L2041.2 610.0"/>
<line class="dt" x1="1003.1" y1="281.2" x2="1003.1" y2="1330.0"/>
<line class="dt" x1="1037.5" y1="274.1" x2="1037.5" y2="1322.9"/>
<line class="dt" x1="1073.6" y1="271.2" x2="1073.6" y2="1320.0"/>
<line class="dt" x1="1104.3" y1="278.1" x2="1104.3" y2="1326.9"/>
<line class="dt" x1="1195.1" y1="270.0" x2="1195.1" y2="1318.8"/>
<line class="dt" x1="1261.4" y1="269.0" x2="1261.4" y2="1317.8"/>
<line class="dt" x1="1306.2" y1="456.0" x2="1306.2" y2="1297.6"/>
<line class="dt" x1="1352.3" y1="461.0" x2="1352.3" y2="1302.6"/>
<line class="dt" x1="1412.3" y1="461.0" x2="1412.3" y2="1302.6"/>
<line class="dt" x1="1455.6" y1="461.0" x2="1455.6" y2="1302.6"/>
<line class="ln" x1="926.8" y1="92.4" x2="973.3" y2="149.9"/>
<line class="ln" x1="926.8" y1="92.4" x2="1088.7" y2="148.4"/>
<line class="ln" x1="926.8" y1="92.4" x2="1205.6" y2="146.2"/>
<line class="ln" x1="1047.3" y1="105.5" x2="1231.5" y2="95.2"/>
<line class="ln" x1="1106.7" y1="129.5" x2="1231.5" y2="95.2"/>
<line class="ln" x1="1231.5" y1="95.2" x2="1251.8" y2="159.2"/>
<line class="ln" x1="1387.0" y1="254.7" x2="1312.2" y2="330.5"/>
<line class="ln" x1="1387.0" y1="254.7" x2="1363.0" y2="338.7"/>
<line class="ln" x1="1387.0" y1="254.7" x2="1408.5" y2="337.3"/>
<line class="ln" x1="1387.0" y1="254.7" x2="1473.0" y2="335.6"/>
<text transform="translate(90.50 1505.01) scale(1.0000 1)" font-size="79.70" fill="#000">2000</text>
<text transform="translate(465.21 1505.01) scale(1.0000 1)" font-size="79.70" fill="#000">1800</text>
<text transform="translate(839.41 1505.01) scale(1.0000 1)" font-size="79.70" fill="#000">1600</text>
<text transform="translate(1213.61 1505.01) scale(1.0000 1)" font-size="79.70" fill="#000">1400</text>
<text transform="translate(1587.81 1505.01) scale(1.0000 1)" font-size="79.70" fill="#000">1200</text>
<text transform="translate(1962.01 1505.01) scale(1.0000 1)" font-size="79.70" fill="#000">1000</text>
<text transform="translate(202.58 593.70) scale(1.0259 1)" font-size="75.50" fill="#960000">60 min</text>
<text transform="translate(199.39 771.00) scale(1.0304 1)" font-size="75.50" fill="#0000ff">50 min</text>
<text transform="translate(195.23 902.50) scale(1.0174 1)" font-size="75.50" fill="#ff0000">40 min</text>
<text transform="translate(191.91 1018.80) scale(1.0235 1)" font-size="75.50" fill="#9400ff">30 min</text>
<text transform="translate(192.90 1132.50) scale(1.0281 1)" font-size="75.50" fill="#008080">20 min</text>
<text transform="translate(194.82 1227.50) scale(1.0230 1)" font-size="75.50" fill="#ff8000">10 min</text>
<text transform="translate(194.32 1313.60) scale(1.0225 1)" font-size="75.50" fill="#000">1 min</text>
<text transform="translate(213.06 136.19) scale(1.0221 1)" font-size="89.11" fill="#000">(A)</text>
<text transform="translate(714.31 118.46) scale(0.9882 1)" font-size="59.22" fill="#000"><tspan font-style="italic">v</tspan> (C=C)</text>
<text transform="translate(638.62 269.48) scale(0.9844 1)" font-size="58.67" fill="#000"><tspan font-style="italic">v</tspan> (C=O)</text>
<text transform="translate(1168.12 76.40) scale(0.9970 1)" font-size="58.56" fill="#000"><tspan font-style="italic">v</tspan> (COO)</text>
<text transform="translate(1316.72 249.46) scale(0.9841 1)" font-size="59.22" fill="#000"><tspan font-style="italic">v</tspan> (C-H)</text>
<text transform="translate(605.04 327.11) scale(0.9784 1)" font-size="59.56" fill="#000">1600−1900</text>
<text transform="translate(1003.73 270.02) rotate(-90) scale(0.9845 1)" font-size="58.68" fill="#000">1562</text>
<text transform="translate(1053.82 269.63) rotate(-90) scale(0.9829 1)" font-size="58.82" fill="#000">1540</text>
<text transform="translate(1096.02 271.62) rotate(-90) scale(0.9820 1)" font-size="58.82" fill="#000">1520</text>
<text transform="translate(1139.12 268.88) rotate(-90) scale(0.9922 1)" font-size="58.97" fill="#000">1500</text>
<text transform="translate(1215.82 273.83) rotate(-90) scale(0.9829 1)" font-size="58.82" fill="#000">1460</text>
<text transform="translate(1277.82 271.27) rotate(-90) scale(0.9705 1)" font-size="58.82" fill="#000">1413</text>
<text transform="translate(1324.82 464.64) rotate(-90) scale(0.9856 1)" font-size="58.82" fill="#000">1395</text>
<text transform="translate(1372.62 462.12) rotate(-90) scale(0.9811 1)" font-size="58.82" fill="#000">1375</text>
<text transform="translate(1427.62 458.43) rotate(-90) scale(0.9838 1)" font-size="58.82" fill="#000">1330</text>
<text transform="translate(1479.82 458.43) rotate(-90) scale(0.9838 1)" font-size="58.82" fill="#000">1305</text>
<text transform="translate(863.79 1628.00) scale(1.0272 1)" font-size="88.60" fill="#000">Wavenumber</text>
<text transform="translate(1408.68 1628.00) scale(1.1070 1)" font-size="88.60" fill="#000">(</text>
<text transform="translate(1461.78 1628.00) scale(0.9864 1)" font-size="88.60" fill="#000">cm</text>
<text transform="translate(1659.76 1628.00) scale(1.1070 1)" font-size="88.60" fill="#000">)</text>
<text transform="translate(1575.70 1591.30) scale(1.0902 1)" font-size="60.50" fill="#000" font-weight="normal">−</text>
<text transform="translate(1610.48 1591.30) scale(0.9587 1)" font-size="60.50" fill="#000" font-weight="normal">1</text>
<text transform="translate(77.07 1097.71) rotate(-90) scale(1.0079 1)" font-size="89.67" fill="#000">Kubelka-Munk (a.u.)</text>
</svg></body></html>
